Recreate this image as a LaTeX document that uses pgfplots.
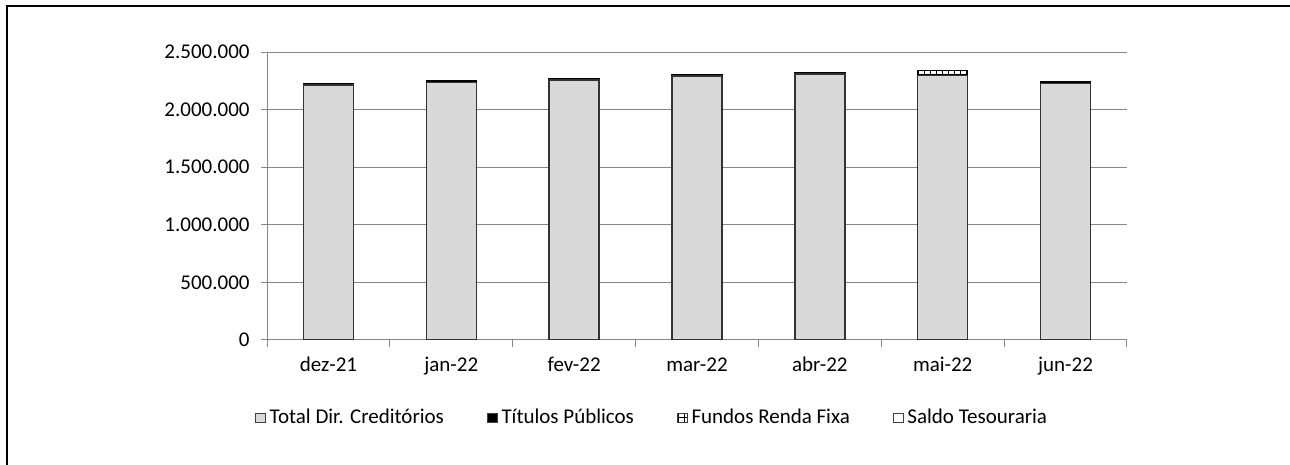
\documentclass[border=0pt]{standalone}
\usepackage{pgfplots}
\pgfplotsset{compat=1.18}
\usepackage{fontspec}
\setmainfont{Carlito}
\usetikzlibrary{patterns}
\definecolor{barfill}{RGB}{217,217,217}
\definecolor{gridc}{RGB}{134,134,134}
\pgfplotsset{sq/.style={legend image code/.code={\draw[##1, line width=0.45pt, draw=black!75] (0pt,-2.4pt) rectangle (4.8pt,2.4pt);}}}
\begin{document}
\fontsize{10.5}{12.6}\selectfont
\begin{tikzpicture}[x=1pt,y=1pt]
\useasboundingbox (0,0) rectangle (645,232.5);
\draw[line width=1pt] (3.5,0) -- (3.5,229.5) -- (645,229.5);
\begin{axis}[
  at={(133.5pt,62.5pt)}, anchor=south west, scale only axis,
  width=430pt, height=144pt,
  ybar stacked, bar width=25pt,
  xmin=-0.5, xmax=6.5, ymin=0, ymax=2500000,
  xtick={0,...,6},
  xticklabels={dez-21,jan-22,fev-22,mar-22,abr-22,mai-22,jun-22},
  minor xtick={-0.5,0.5,...,6.5},
  ytick={0,500000,...,2500000},
  scaled y ticks=false,
  /pgf/number format/fixed,
  /pgf/number format/1000 sep={.},
  /pgf/number format/assume math mode=true,
  ymajorgrids, grid style={gridc, line width=0.5pt},
  axis x line*=bottom, axis y line*=left,
  axis line style={gridc, line width=0.5pt},
  tick align=outside,
  major x tick style={draw=none},
  minor x tick style={gridc, line width=0.5pt},
  major y tick style={gridc, line width=0.5pt},
  major tick length=3pt, minor tick length=3.5pt,
  xticklabel style={yshift=-2pt},
  yticklabel style={xshift=-2pt},
  legend columns=4,
  legend style={draw=none, at={(0.449,-0.271)}, anchor=center,
    /tikz/every even column/.append style={column sep=19.5pt},
    cells={anchor=west}, inner sep=0pt},
]
\addplot+[sq, fill=barfill, draw=black!80, line width=0.75pt] coordinates {
(0,2214000) (1,2236000) (2,2257000) (3,2291000) (4,2310000) (5,2297000) (6,2225000)};
\addlegendentry{Total Dir. Creditórios}
\addplot+[sq, fill=black, draw=black, line width=0.75pt] coordinates {
(0,8000) (1,12000) (2,15000) (3,9000) (4,10000) (5,3000) (6,15000)};
\addlegendentry{Títulos Públicos}
\addplot+[sq, fill=white, pattern=grid, pattern color=black, draw=black, line width=0.75pt] coordinates {
(0,0) (1,0) (2,0) (3,0) (4,0) (5,38000) (6,0)};
\addlegendentry{Fundos Renda Fixa}
\addplot+[sq, fill=white, draw=black, line width=0.75pt] coordinates {
(0,0) (1,0) (2,0) (3,0) (4,0) (5,0) (6,0)};
\addlegendentry{Saldo Tesouraria}
\end{axis}
\end{tikzpicture}
\end{document}
